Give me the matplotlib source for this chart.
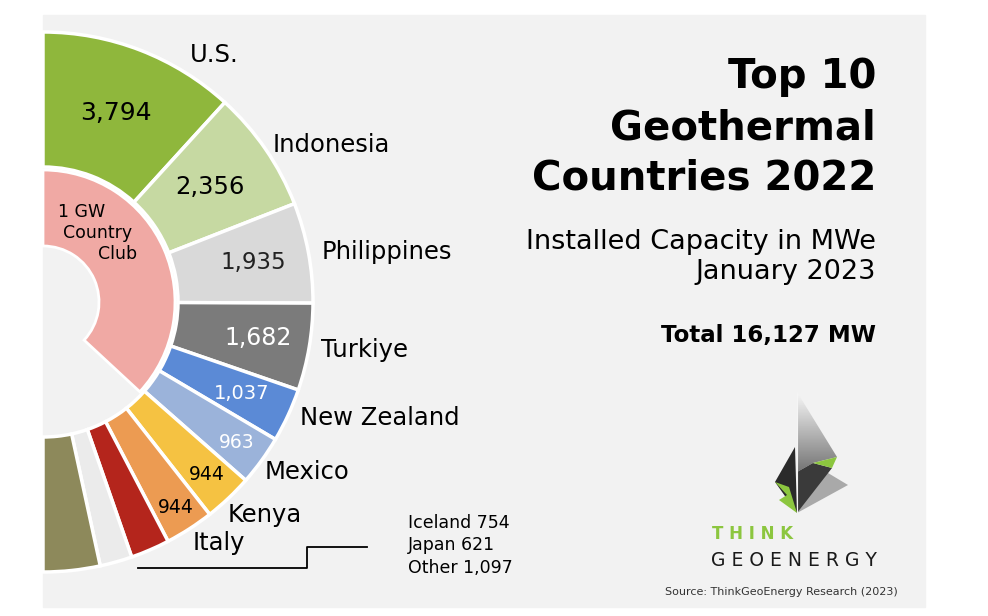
import numpy as np
import matplotlib.pyplot as plt
from matplotlib.patches import Rectangle, Polygon

# installed geothermal capacity, MWe, January 2023
countries = ["U.S.", "Indonesia", "Philippines", "Turkiye", "New Zealand",
             "Mexico", "Kenya", "Italy", "Iceland", "Japan", "Other"]
capacity = [3794, 2356, 1935, 1682, 1037, 963, 944, 944, 754, 621, 1097]
colors = ["#8fb73c", "#c6d9a2", "#d9d9d9", "#7b7b7b", "#5b8ad6", "#9bb3da",
          "#f5c242", "#ec9b52", "#b4251c", "#ebebeb", "#8d895b"]
value_colors = ["black", "black", "#222222", "white", "white", "white",
                "black", "black"]

total = sum(capacity)
club = sum(v for v in capacity if v >= 1000)

W, H = 988, 616
def Y(y):
    return H - y

fig = plt.figure(figsize=(W / 100, H / 100), dpi=100)
fig.patch.set_facecolor("white")
ax = fig.add_axes([0, 0, 1, 1])

ax.add_patch(Rectangle((43, Y(607)), 882, 592, color="#f2f2f2", zorder=0))

cx, cy = 43, Y(302)
wedges, _ = ax.pie(capacity + [total], radius=270, center=(cx, cy),
                   startangle=90, counterclock=False,
                   colors=colors + ["none"],
                   wedgeprops=dict(width=135, edgecolor="white", linewidth=2.5))
wedges[-1].set_visible(False)

inner, _ = ax.pie([club, 2 * total - club], radius=132, center=(cx, cy),
                  startangle=90, counterclock=False,
                  colors=["#f0a9a4", "none"],
                  wedgeprops=dict(width=76, edgecolor="white", linewidth=2))
inner[-1].set_visible(False)

# values inside the wedges
cum = np.cumsum(capacity) - np.array(capacity) / 2
mid = np.radians(90 - cum / total * 180)
val_r = [203, 203, 214, 218, 219, 239, 238, 245]
val_fs = [18, 17.5, 16.5, 17, 14, 13.5, 13.5, 13.5]
for i in range(8):
    ax.text(cx + val_r[i] * np.cos(mid[i]), cy + val_r[i] * np.sin(mid[i]),
            f"{capacity[i]:,}", ha="center", va="center", fontsize=val_fs[i],
            color=value_colors[i])

# country names outside
name_pos = [(190, 55), (273, 145), (322, 252), (321, 350), (300, 418),
            (265, 472), (228, 515), (193, 543)]
for i, (x, y) in enumerate(name_pos):
    ax.text(x, Y(y), countries[i], ha="left", va="center", fontsize=17.5)

ax.text(82, Y(212), "1 GW", ha="center", va="center", fontsize=12.5)
ax.text(98, Y(233), "Country", ha="center", va="center", fontsize=12.5)
ax.text(118, Y(254), "Club", ha="center", va="center", fontsize=12.5)

small = [f"{countries[i]} {capacity[i]:,}" for i in range(8, 11)]
for k, s in enumerate(small):
    ax.text(408, Y(523 + 22.5 * k), s, ha="left", va="center", fontsize=12.5)
ax.plot([138, 307, 307, 367], [Y(568), Y(568), Y(547), Y(547)],
        color="black", lw=1.3)

# title block
ax.text(876, Y(88), "Top 10", ha="right", va="baseline", fontsize=29,
        fontweight="bold")
ax.text(876, Y(139), "Geothermal", ha="right", va="baseline", fontsize=29,
        fontweight="bold")
ax.text(876, Y(189), "Countries 2022", ha="right", va="baseline", fontsize=29,
        fontweight="bold")
ax.text(876, Y(249), "Installed Capacity in MWe", ha="right", va="baseline",
        fontsize=19.5)
ax.text(876, Y(279), "January 2023", ha="right", va="baseline", fontsize=19.5)
ax.text(876, Y(342), "Total 16,127 MW", ha="right", va="baseline",
        fontsize=16.5, fontweight="bold")

# logo
def poly(pts, c, z=3):
    p = Polygon([(x, Y(y)) for x, y in pts], closed=True, color=c, lw=0,
                zorder=z)
    ax.add_patch(p)
    return p

poly([(823, 470), (848, 485), (797, 513)], "#a9a9a9")
face = poly([(797, 392), (837, 457), (813, 463), (797, 472)], "none", 4)
grad = np.linspace(0.97, 0.45, 100).reshape(-1, 1)
img = ax.imshow(grad, cmap="gray", vmin=0, vmax=1, aspect="auto",
                extent=(797, 838, Y(473), Y(392)), zorder=4)
img.set_clip_path(face)
poly([(797, 472), (813, 463), (832, 468), (797, 513)], "#3a3a3a", 5)
poly([(813, 463), (837, 457), (832, 468)], "#8cc63f", 5)
poly([(795, 447), (775, 482), (797, 513)], "#2a2a2a", 5)
poly([(775, 482), (789, 487), (797, 513), (779, 500), (787, 495)],
     "#8cc63f", 6)
ax.plot([797, 797], [Y(394), Y(512)], color="#f5f5f5", lw=0.8, zorder=7)

ax.text(712, Y(534), "T H I N K", ha="left", va="center", fontsize=12,
        color="#8cc63f", fontweight="bold")
ax.text(711, Y(560), "G E O E N E R G Y", ha="left", va="center",
        fontsize=13.5, color="#1a1a1a")
ax.text(665, Y(592), "Source: ThinkGeoEnergy Research (2023)", ha="left",
        va="center", fontsize=8, color="#333333")

ax.set_xlim(0, W)
ax.set_ylim(0, H)
ax.set_aspect("auto")
ax.axis("off")
fig.savefig("out.png", dpi=100, facecolor="white")
